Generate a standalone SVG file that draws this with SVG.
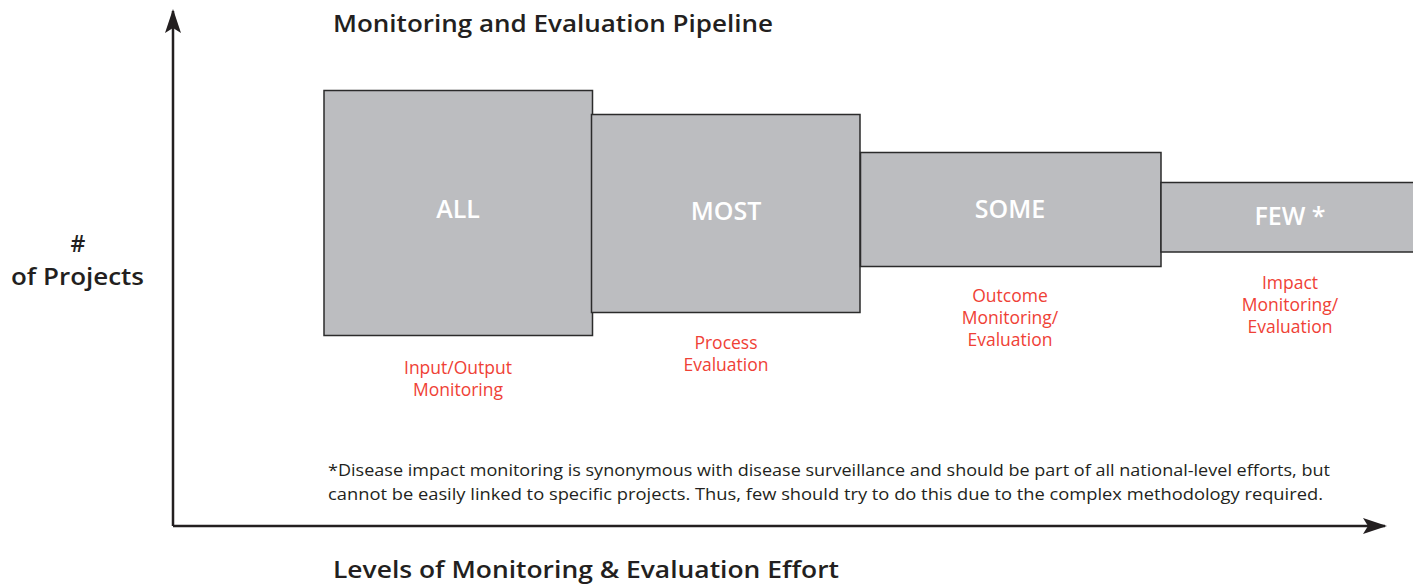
<svg xmlns="http://www.w3.org/2000/svg" width="1413" height="584" viewBox="0 0 1413 584">
<defs>
<style>
text{font-family:"Open Sans",Lato,"Liberation Sans",sans-serif}
.hd{font-size:23px;font-weight:600;fill:#231f20}
.box{fill:#bcbdc0;stroke:#2b2b2b;stroke-width:1.5}
.big{font-size:25px;font-weight:600;fill:#ffffff;text-anchor:middle}
.red{font-size:17.5px;fill:#ef4136;text-anchor:middle}
.note{font-size:15.5px;fill:#231f20}
.axis{stroke:#231f20;stroke-width:2.5;fill:none}
</style>
<marker id="ah" viewBox="0 0 24 16" refX="22" refY="8" markerWidth="24" markerHeight="16" markerUnits="userSpaceOnUse" orient="auto">
<path d="M0,0 L24,8 L0,16 L5,8 Z" fill="#231f20"/>
</marker>
</defs>
<text class="hd" x="333" y="32" textLength="440" lengthAdjust="spacingAndGlyphs">Monitoring and Evaluation Pipeline</text>
<text class="hd" x="78" y="252" text-anchor="middle">#</text>
<text class="hd" x="11" y="285" textLength="133" lengthAdjust="spacingAndGlyphs">of Projects</text>
<g id="connectors">
<line class="axis" x1="173" y1="526" x2="173" y2="11" marker-end="url(#ah)"/>
<line class="axis" x1="173" y1="526" x2="1385" y2="526" marker-end="url(#ah)"/>
</g>
<g id="node-all">
<rect class="box" x="324" y="90.5" width="268.5" height="245"/>
<text class="big" x="458" y="218">ALL</text>
<text class="red" x="458" y="374">Input/Output</text>
<text class="red" x="458" y="396">Monitoring</text>
</g>
<g id="node-most">
<rect class="box" x="591.5" y="114.5" width="268.5" height="198"/>
<text class="big" x="726" y="220">MOST</text>
<text class="red" x="726" y="349">Process</text>
<text class="red" x="726" y="371">Evaluation</text>
</g>
<g id="node-some">
<rect class="box" x="860.5" y="152.5" width="300.5" height="114"/>
<text class="big" x="1010" y="218">SOME</text>
<text class="red" x="1010" y="302">Outcome</text>
<text class="red" x="1010" y="324">Monitoring/</text>
<text class="red" x="1010" y="346">Evaluation</text>
</g>
<g id="node-few">
<rect class="box" x="1161" y="182.5" width="260" height="69.5"/>
<text class="big" x="1290" y="225">FEW *</text>
<text class="red" x="1290" y="289">Impact</text>
<text class="red" x="1290" y="311">Monitoring/</text>
<text class="red" x="1290" y="333">Evaluation</text>
</g>
<text class="note" x="328" y="476" textLength="1002" lengthAdjust="spacingAndGlyphs">*Disease impact monitoring is synonymous with disease surveillance and should be part of all national-level efforts, but</text>
<text class="note" x="328" y="500" textLength="995" lengthAdjust="spacingAndGlyphs">cannot be easily linked to specific projects. Thus, few should try to do this due to the complex methodology required.</text>
<text class="hd" x="333" y="578" textLength="506" lengthAdjust="spacingAndGlyphs">Levels of Monitoring &amp; Evaluation Effort</text>
</svg>
